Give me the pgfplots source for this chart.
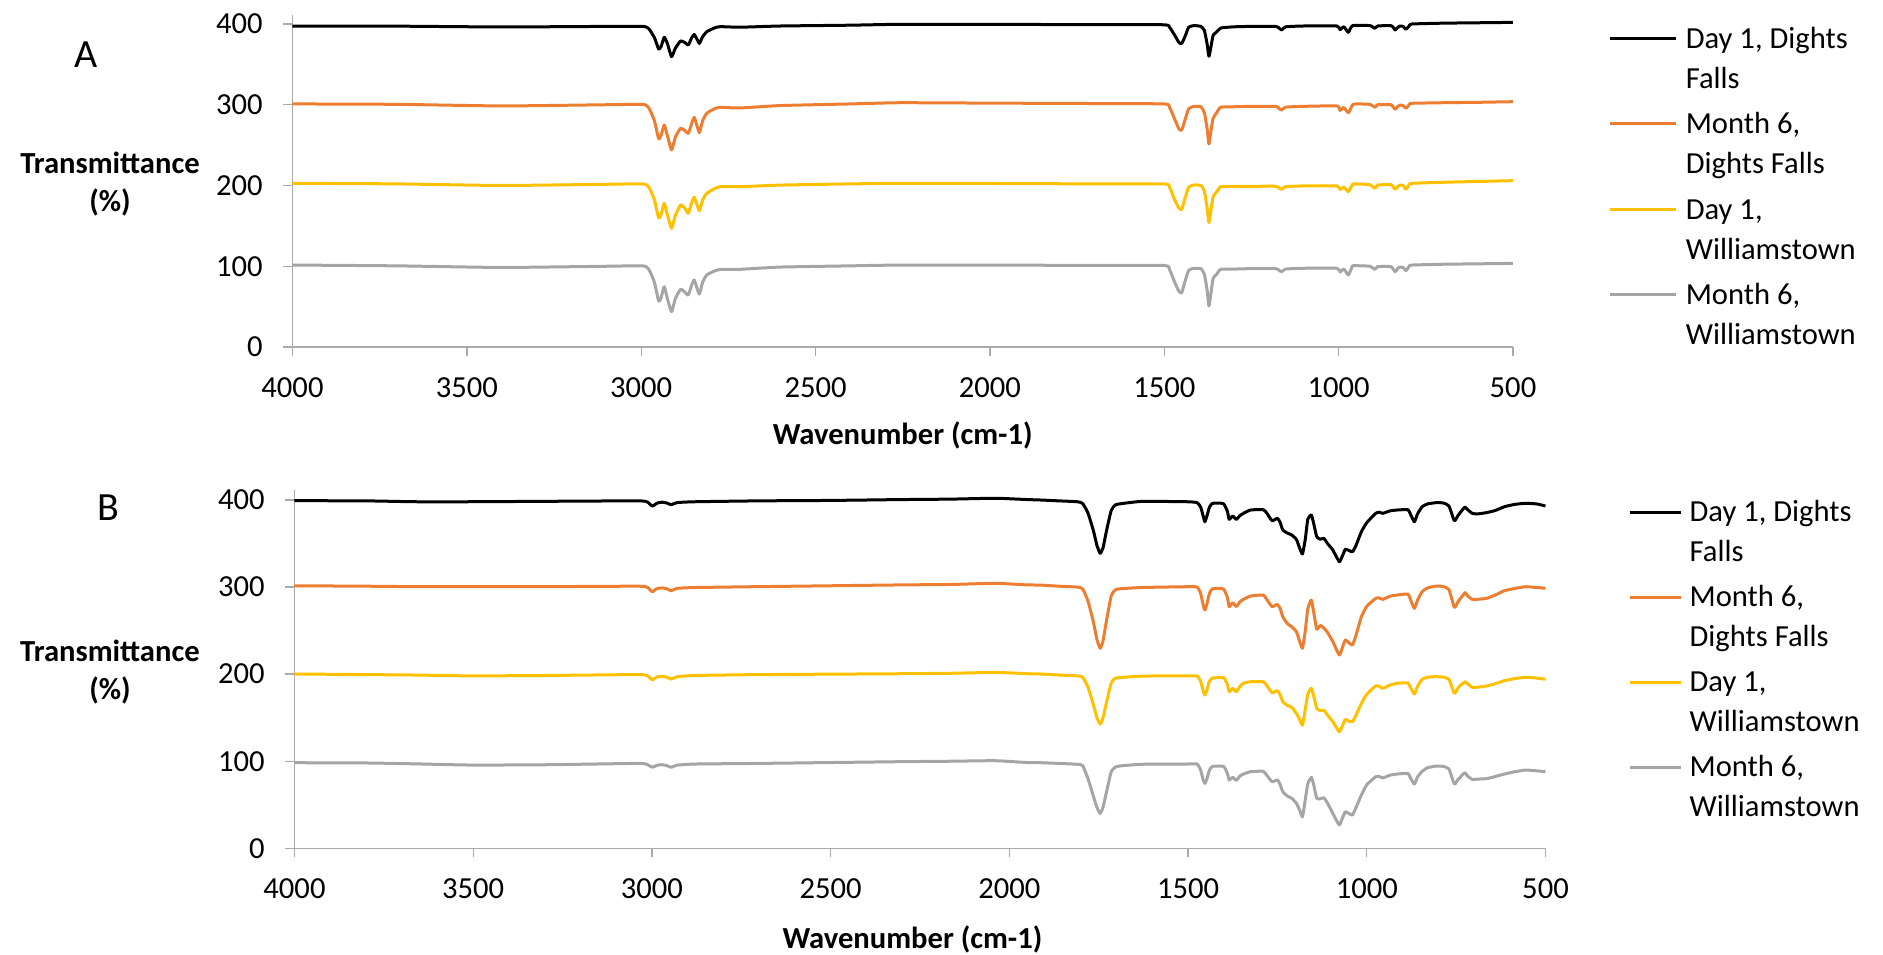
\documentclass[border=0pt]{standalone}
\usepackage{fontspec}
\setmainfont{Carlito}
\usepackage{pgfplots}
\pgfplotsset{compat=1.18}

\definecolor{axgray}{RGB}{170,170,170}
\definecolor{orng}{RGB}{237,125,49}
\definecolor{gold}{RGB}{255,192,0}
\definecolor{grey}{RGB}{165,165,165}

\pgfplotsset{
  ftir/.style={
    scale only axis,
    clip mode=individual,
    x dir=reverse,
    xmin=500, xmax=4000, ymin=0, ymax=411,
    xtick={500,1000,...,4000}, ytick={0,100,...,400},
    axis x line*=bottom, axis y line*=left,
    axis line style={axgray, line width=0.7pt},
    tick style={axgray, line width=0.7pt},
    major tick length=4.5pt,
    tick align=outside,
    /pgf/number format/1000 sep={},
    /pgf/number format/assume math mode=true,
    tick label style={font=\fontsize{15.3}{18}\selectfont, black},
    yticklabel style={anchor=east, inner sep=0pt, xshift=-10.25pt},
    xticklabel style={anchor=north, inner sep=0pt, yshift=-10.5pt},
    label style={font=\fontsize{15.3}{19}\selectfont\bfseries},
    xlabel={Wavenumber (cm-1)},
    ylabel={Transmittance\\(\%)},
    every axis plot/.append style={line width=1.5pt, line join=round, smooth, tension=0.3},
    legend cell align=left,
  },
  leg/.style={
    legend style={draw=none, fill=none, inner sep=0pt, outer sep=0pt,
      font=\fontsize{15.3}{20}\selectfont,
      cells={anchor=base west, inner sep=0pt}},
  },
}
\newcommand{\two}[2]{\smash{\begin{tabular}[t]{@{}l@{}}#1\\#2\end{tabular}}}

\begin{document}
\begin{tikzpicture}
\useasboundingbox (0,0) rectangle (941.5pt,-477pt);

% ---------------- panel A
\begin{axis}[ftir, leg,
  at={(146.25pt,-173.5pt)}, anchor=south west,
  width=610.25pt, height=165.95pt,
  xlabel style={at={(axis description cs:0.5,-0.265)}, anchor=center},
  ylabel style={rotate=-90, at={(axis description cs:-0.1495,0.4911)}, anchor=center, align=center},
  legend style={row sep=37.2pt, column sep=2pt, at={(axis description cs:1.0785,0.912)}, anchor=north west},
  legend image code/.code={\path (0pt,0pt) (33pt,0pt); \draw[#1,overlay] (0pt,4.9pt) -- (33pt,4.9pt);},
]
\addplot[black] table {
4000 397.5
3700 397.3
3400 396.3
3100 397
2995 397
2978 394
2962 383
2950 369
2943 372
2934 383.5
2925 376
2913 359.5
2902 370
2887 379
2875 377
2865 374
2855 383
2848 387
2840 381
2833 376
2824 384
2812 390.5
2790 395
2774 396.7
2717 396
2600 397.5
2400 398.5
2258 399.6
2000 399.5
1700 399.2
1500 399
1485 396
1470 386
1458 377
1450 376
1440 385
1430 396
1415 398
1395 397
1385 392
1377 375
1372 360
1366 372
1360 386
1350 390
1338 395
1300 396.5
1254 397
1180 397
1170 394.5
1163 392.6
1152 396.5
1101 397.5
1005 397.5
996 393
985 396.5
972 389.7
960 398
910 398
900 395.5
896 394.6
888 397.5
850 398
842 395
838 392.6
830 396
824 397.5
815 397
807 393.4
797 398
790 400
700 401
600 401.5
499 402
};
\addlegendentry{\two{Day 1, Dights}{Falls}}
\addplot[orng] table {
4000 301
3700 300.5
3400 298.5
3100 300
2995 300.5
2978 296
2962 280
2950 258
2943 262
2934 275
2925 262
2913 244
2902 260
2887 270.8
2875 268
2865 264.6
2855 277
2848 284.4
2840 274
2833 265.4
2824 280
2812 289.4
2790 295
2774 296.8
2717 296
2600 299
2400 301
2258 302.5
2000 302
1700 301.5
1500 301
1485 297
1470 282
1458 270
1450 268.7
1440 282
1430 295
1415 298
1395 297.5
1385 290
1377 270
1372 251.4
1366 268
1360 283.2
1350 290
1338 297
1300 297.5
1254 298
1180 298
1170 295
1163 293.5
1152 297
1101 298
1005 298.5
996 293
985 296.5
972 290.2
960 300
950 301
910 300.5
896 296.8
888 300
850 300
838 294.3
830 298
824 299.5
815 299
807 295.6
797 300.5
790 301.8
700 302.5
600 303
499 303.8
};
\addlegendentry{\two{Month 6,}{Dights Falls}}
\addplot[gold] table {
4000 202.7
3700 202
3400 200
3100 201.5
2995 202
2978 198
2962 182
2950 160
2943 164
2934 178
2925 164
2913 147
2902 163
2887 175.9
2875 172
2865 165.6
2855 179
2848 185.4
2840 176
2833 168.8
2824 182
2812 190.3
2790 196
2774 198.5
2717 198.5
2600 200.5
2400 202
2258 202.7
2000 202.5
1700 202
1500 202
1485 198
1470 182
1458 172
1450 170.5
1440 185
1430 198
1415 200.6
1395 200
1385 193
1377 172
1372 153.9
1366 170
1360 186.1
1350 192
1338 198.5
1300 199
1254 199
1180 199
1170 196.5
1163 195.3
1152 198.5
1101 199.5
1005 199.5
996 195
985 198
972 192.3
960 201.5
950 201.9
910 201
896 196.5
888 200.5
850 201
838 195.3
830 199
824 200.5
815 200
807 195.3
797 201.5
790 202.7
700 204
600 205
499 206
};
\addlegendentry{\two{Day 1,}{Williamstown}}
\addplot[grey] table {
4000 101.5
3700 100.5
3400 98.5
3100 100
2995 100.5
2978 96
2962 80
2950 57
2943 61
2934 74.7
2925 60
2913 43.7
2902 60
2887 71.5
2875 68
2865 64.4
2855 77
2848 83
2840 73
2833 65.6
2824 80
2812 89.2
2790 94
2774 96
2717 96.2
2600 99
2400 100.5
2258 101.5
2000 101.5
1700 101
1500 101
1485 96
1470 80
1458 69
1450 67.3
1440 82
1430 95
1415 97.4
1395 97
1385 90
1377 70
1372 50.8
1366 67
1360 85
1350 90
1338 96.2
1300 96.5
1254 97
1180 97
1170 94.5
1163 93.3
1152 96.5
1101 97.5
1005 97.5
996 93
985 96.5
972 89.2
960 100.5
950 100.7
910 100
896 96.2
888 99.5
850 99.5
838 93.3
830 97.5
824 99
815 98.5
807 94.5
797 100.5
790 101.5
700 102.5
600 103
499 103.6
};
\addlegendentry{\two{Month 6,}{Williamstown}}
\node[font=\fontsize{20}{24}\selectfont] at (axis description cs:-0.1692,0.8798) {A};
\end{axis}

% ---------------- panel B
\begin{axis}[ftir, leg,
  at={(147.25pt,-424.15pt)}, anchor=south west,
  width=625.5pt, height=178.95pt,
  xlabel style={at={(axis description cs:0.494,-0.255)}, anchor=center},
  ylabel style={rotate=-90, at={(axis description cs:-0.1475,0.4926)}, anchor=center, align=center},
  legend style={row sep=37pt, column sep=1.8pt, at={(axis description cs:1.066,0.923)}, anchor=north west},
  legend image code/.code={\path (0pt,0pt) (25.5pt,0pt); \draw[#1,overlay] (0pt,4.9pt) -- (25.5pt,4.9pt);},
]
\addplot[black] table {
4000 399.2
3800 399
3663 398
3502 398
3288 398.5
3038 399
3012 397.5
2999 393
2985 396.5
2971 397.5
2958 396.5
2946 394.6
2930 397
2878 398
2700 399
2500 399.5
2300 400.5
2164 401
2039 402
1950 400.5
1914 400
1861 399
1810 398
1795 396
1780 385
1765 365
1755 348
1746 338.8
1738 345
1728 365
1715 388
1704 394.2
1692 395.5
1629 398.4
1504 398
1475 397
1465 392
1458 382
1453 375
1447 382
1440 392
1432 396
1415 396.5
1400 395.5
1390 387
1385 377.8
1375 381.6
1365 377.8
1355 382
1345 384.7
1325 388.5
1290 388.9
1280 385
1265 376.2
1250 379
1242 374
1235 365.5
1222 362
1210 359.8
1197 354.8
1188 345
1180 338
1172 355
1165 378
1155 382.7
1148 372
1140 357.8
1130 355
1120 356
1110 350
1095 342.6
1077 329.1
1068 336
1060 343.4
1050 342
1040 340.6
1030 348
1015 363.6
1000 374
975 384.7
965 386
955 384.7
935 387.5
915 388.5
885 388.9
878 384
867 375
858 384
845 392.3
830 395.5
805 397
785 396.5
770 393
755 376.2
745 382
740 384.7
730 390
725 391.9
718 389
705 384.7
690 384
665 385.5
640 388
615 392.3
585 395
555 396.2
525 395.5
500 393.1
};
\addlegendentry{\two{Day 1, Dights}{Falls}}
\addplot[orng] table {
4000 301.5
3800 301
3663 300.5
3502 300.4
3288 300.5
3038 301
3012 299.5
2999 294.7
2985 298.5
2971 299
2958 298
2946 295.8
2930 298.5
2878 299.5
2700 300.5
2500 301.5
2300 302.5
2164 303
2039 304.3
1950 302.5
1914 302.3
1861 301
1810 300
1795 298
1780 284
1765 260
1755 240
1746 229.7
1738 238
1728 262
1715 290
1704 296.6
1692 298
1629 299.5
1504 300.4
1475 300
1465 293
1458 280
1453 273.7
1447 281
1440 293
1432 298
1415 298.6
1400 297.5
1390 288
1385 277.6
1375 282
1365 277.6
1355 283
1345 285.9
1325 289.7
1290 290.9
1280 286
1265 277.6
1250 280
1242 275
1235 266
1222 258
1210 254.5
1197 248.8
1188 238
1180 229.7
1172 250
1165 275
1155 285.1
1148 270
1140 251.5
1130 256
1120 253
1110 248
1095 237.3
1077 222
1068 231
1060 239.2
1050 236
1040 233.5
1030 245
1015 266
1000 278
975 287
965 287.5
955 285.9
935 289.5
915 290.9
885 292
878 286
867 275.6
858 285
845 294.7
830 299
805 301.2
785 300.5
770 297
755 276.7
745 283
740 285.9
730 291
725 293.6
718 290
705 285.9
690 286
665 287
640 291
615 295.8
585 298.5
555 300.4
525 299.5
500 298.6
};
\addlegendentry{\two{Month 6,}{Dights Falls}}
\addplot[gold] table {
4000 200.2
3800 199.5
3663 199
3502 198
3288 198.5
3038 199.5
3012 198
2999 193.5
2985 197
2971 197.5
2958 196.5
2946 194.3
2930 197
2878 198.5
2700 199.5
2500 200
2300 200.5
2164 201
2039 202
1950 200.5
1914 200.2
1861 199
1810 198
1795 196.5
1780 185
1765 165
1755 150
1746 142.7
1738 150
1728 168
1715 190
1704 195.2
1692 196
1629 197.8
1504 197.9
1475 197.9
1465 192
1458 181
1453 176
1447 182
1440 192
1432 195.5
1415 196
1400 196
1390 188
1385 179.8
1375 183.7
1365 179.8
1355 186
1345 189.5
1325 191.3
1290 191.3
1280 187
1265 178.7
1250 181
1242 176
1235 168.4
1222 164
1210 161.9
1197 155
1188 148
1180 141.6
1172 160
1165 177
1155 183.7
1148 174
1140 160.8
1130 158
1120 158.5
1110 153
1095 145.4
1077 133.9
1068 141
1060 148.1
1050 146
1040 145.4
1030 153
1015 166.5
1000 177
975 186.4
965 186
955 183.7
935 187.5
915 189.5
885 190
878 185
867 177.2
858 186
845 194.1
830 196.5
805 197.1
785 196.5
770 194
755 178
745 184
740 186.4
730 190
725 191.3
718 189
705 184.9
690 185
665 186.4
640 189
615 192.5
585 195
555 196.4
525 195.5
500 194.1
};
\addlegendentry{\two{Day 1,}{Williamstown}}
\addplot[grey] table {
4000 98.3
3800 98
3663 97
3502 95.6
3288 96
3038 97.5
3012 96
2999 93
2985 95.5
2971 96
2958 95
2946 93
2930 95.5
2878 96.8
2700 97.5
2500 98.5
2300 99.5
2164 100
2039 100.6
1950 98.5
1914 98.3
1861 97.5
1810 96.5
1795 95
1780 80
1765 60
1755 47
1746 40.2
1738 47
1728 65
1715 88
1704 93
1692 94.5
1629 96.5
1504 96.8
1475 96.8
1465 90
1458 79
1453 74.6
1447 80
1440 90
1432 94
1415 94.5
1400 94
1390 86
1385 78.4
1375 81.5
1365 78
1355 83
1345 85.3
1325 88
1290 88.5
1280 84
1265 76.5
1250 78.5
1242 73
1235 65
1222 60
1210 57.4
1197 51.7
1188 44
1180 36.3
1172 56
1165 74
1155 81.5
1148 72
1140 57.4
1130 57
1120 58
1110 52
1095 40.2
1077 26.8
1068 35
1060 42
1050 40
1040 38.2
1030 47
1015 61.2
1000 73
975 82.2
965 82.5
955 80.8
935 84
915 85.3
885 86
878 81
867 73.8
858 82
845 88.4
830 92.5
805 94.5
785 94
770 91
755 73.8
745 79
740 81
730 85.5
725 86.8
718 83
705 79.2
690 79.5
665 80
640 82.5
615 85.3
585 88
555 89.9
525 89
500 88
};
\addlegendentry{\two{Month 6,}{Williamstown}}
\node[font=\fontsize{20}{24}\selectfont] at (axis description cs:-0.1491,0.9508) {B};
\end{axis}
\end{tikzpicture}
\end{document}
